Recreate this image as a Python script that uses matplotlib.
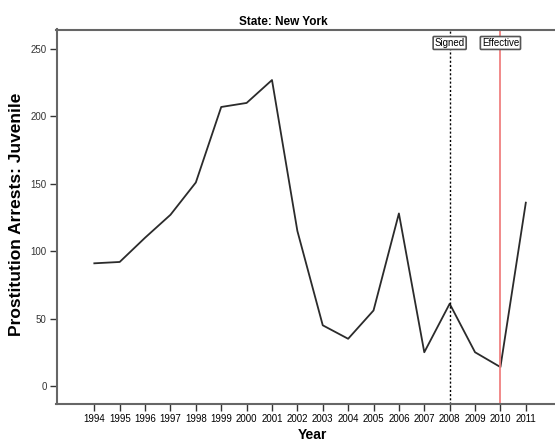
import matplotlib
matplotlib.use("Agg")
import matplotlib.pyplot as plt

plt.rcParams['font.family'] = ['Liberation Sans', 'DejaVu Sans']

years = [1994, 1995, 1996, 1997, 1998, 1999, 2000, 2001, 2002, 2003,
         2004, 2005, 2006, 2007, 2008, 2009, 2010, 2011]
arrests = [91, 92, 110, 127, 151, 207, 210, 227, 115, 45,
           35, 56, 128, 25, 61, 25, 14, 136]
yticks = [0, 50, 100, 150, 200, 250]
signed_year = 2008
effective_year = 2010

W, H = 555, 443
fig = plt.figure(figsize=(W/100, H/100), dpi=100)
left, right, top, bottom = 56.5, 555, 29.5, 404
ax = fig.add_axes([left/W, 1-bottom/H, (right-left)/W, (bottom-top)/H])

ax.plot(years, arrests, color='#2b2b2b', lw=1.3)
ax.axvline(signed_year, color='black', lw=1.0, ls=(0, (1.5, 1.5)))
ax.axvline(effective_year, color='#f08080', lw=1.3)

box = dict(boxstyle='round,pad=0.15,rounding_size=0.1', fc='white', ec='#555555', lw=1.2)
ax.text(signed_year, 254.5, 'Signed', ha='center', va='center', fontsize=7, bbox=box)
ax.text(effective_year, 254.5, 'Effective', ha='center', va='center', fontsize=7, bbox=box)

ax.set_xlim(1992.51, 2012.15)
ax.set_ylim(-13.4, 264.5)
ax.set_xticks(years)
ax.set_xticklabels([str(y) for y in years], fontsize=7)
ax.set_yticks(yticks)
ax.set_yticklabels([str(t) for t in yticks], fontsize=7, color='#333333')
ax.tick_params(axis='both', direction='out', length=5, width=1, color='#333333', pad=2)
ax.tick_params(axis='x', pad=2)

for s in ['left', 'bottom', 'top']:
    ax.spines[s].set_color('#666666')
    ax.spines[s].set_linewidth(1.5)
ax.spines['right'].set_visible(False)

fig.text(283/W, 1-22/H, 'State: New York', fontsize=8.5, fontweight='bold', ha='center', va='center')
fig.text(312/W, 1-435/H, 'Year', fontsize=10, fontweight='bold', ha='center', va='center')
fig.text(17/W, 1-214/H, 'Prostitution Arrests: Juvenile', fontsize=12.5, fontweight='bold',
         ha='center', va='center', rotation=90)

fig.savefig('out.png', dpi=100)
